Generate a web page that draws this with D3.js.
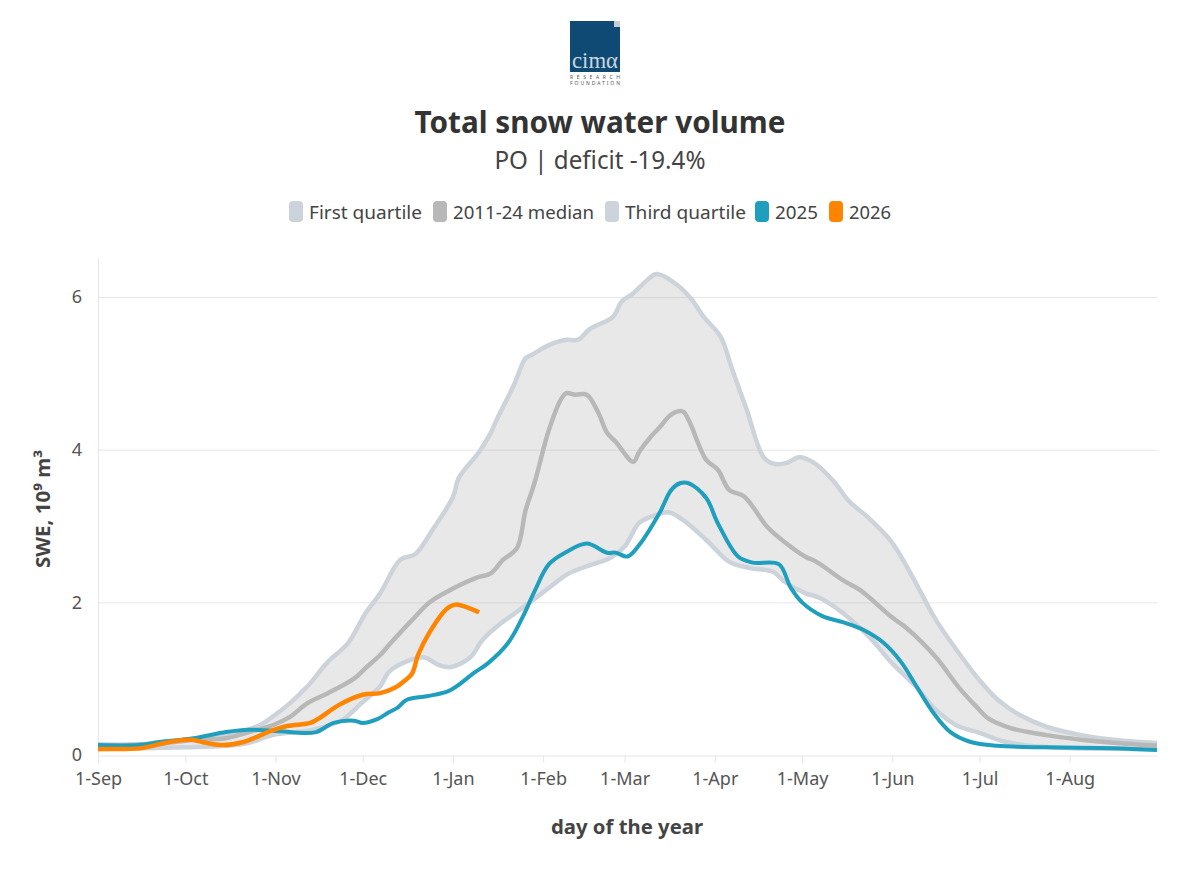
<!DOCTYPE html>
<html>
<head>
<meta charset="utf-8">
<script src="https://cdn.jsdelivr.net/npm/d3@7"></script>
<style>
  html, body { margin: 0; background: #fff; }
  svg { display: block; font-family: "Noto Sans", sans-serif; }
</style>
</head>
<body>
<svg width="1200" height="869"></svg>
<script>
// days are counted from 1 September
const tickDays = [0, 30, 61, 91, 122, 153, 181, 212, 242, 273, 303, 334];
const tickLabels = ["1-Sep", "1-Oct", "1-Nov", "1-Dec", "1-Jan", "1-Feb", "1-Mar", "1-Apr", "1-May", "1-Jun", "1-Jul", "1-Aug"];
const yTicks = [0, 2, 4, 6];

const q3Days = [0, 15, 30, 45, 55, 61, 66, 72, 79, 86, 92, 97, 104, 109, 115, 122, 124, 131, 135, 137, 143, 147, 149, 155, 161, 165, 169, 177, 180, 184, 189, 192, 199, 204, 208, 214, 218, 223, 229, 233, 237, 241, 246, 253, 258, 265, 273, 280, 288, 296, 303, 310, 317, 326, 338, 349, 364];
const q3Values = [0.14, 0.14, 0.2, 0.28, 0.38, 0.53, 0.68, 0.9, 1.22, 1.47, 1.86, 2.12, 2.56, 2.63, 2.95, 3.38, 3.63, 3.97, 4.22, 4.39, 4.85, 5.2, 5.24, 5.37, 5.44, 5.44, 5.58, 5.74, 5.94, 6.05, 6.23, 6.3, 6.16, 5.97, 5.75, 5.48, 5.05, 4.52, 3.89, 3.81, 3.83, 3.9, 3.83, 3.58, 3.33, 3.1, 2.78, 2.33, 1.77, 1.33, 0.98, 0.7, 0.52, 0.37, 0.26, 0.2, 0.157];

const medianDays = [0, 21, 33, 44, 51, 60, 66, 72, 79, 88, 92, 97, 100, 108, 114, 120, 130, 135, 139, 144, 147, 150, 155, 159, 161, 164, 168, 172, 175, 178, 184, 186, 190, 193, 197, 201, 203, 209, 213, 217, 222, 230, 235, 243, 247, 256, 262, 273, 278, 288, 296, 302, 306, 314, 326, 338, 349, 364];
const medianValues = [0.12, 0.15, 0.2, 0.22, 0.29, 0.39, 0.5, 0.68, 0.81, 1.0, 1.14, 1.31, 1.44, 1.77, 2.0, 2.14, 2.32, 2.38, 2.55, 2.71, 3.21, 3.56, 4.26, 4.65, 4.74, 4.72, 4.72, 4.48, 4.22, 4.1, 3.84, 3.97, 4.17, 4.29, 4.46, 4.5, 4.39, 3.87, 3.74, 3.47, 3.39, 2.99, 2.82, 2.6, 2.53, 2.29, 2.16, 1.8, 1.66, 1.28, 0.88, 0.63, 0.48, 0.35, 0.26, 0.2, 0.16, 0.12];

const q1Days = [0, 30, 44, 52, 60, 74, 84, 90, 97, 100, 107, 112, 117, 121, 128, 132, 137, 146, 155, 161, 167, 176, 181, 186, 190, 196, 201, 209, 217, 224, 232, 236, 243, 248, 256, 265, 273, 281, 288, 295, 303, 312, 326, 364];
const q1Values = [0.08, 0.1, 0.12, 0.16, 0.26, 0.33, 0.46, 0.66, 0.9, 1.09, 1.24, 1.28, 1.18, 1.15, 1.28, 1.5, 1.68, 1.93, 2.19, 2.36, 2.46, 2.58, 2.73, 3.04, 3.12, 3.18, 3.08, 2.82, 2.53, 2.45, 2.4, 2.27, 2.12, 2.06, 1.86, 1.55, 1.2, 0.9, 0.59, 0.39, 0.29, 0.17, 0.105, 0.08];

const days2025 = [0, 14, 21, 33, 44, 52, 63, 69, 75, 81, 88, 91, 96, 100, 103, 106, 113, 120, 124, 129, 134, 141, 146, 150, 155, 161, 168, 175, 178, 182, 186, 193, 197, 200, 203, 209, 213, 220, 225, 234, 238, 242, 249, 256, 263, 270, 276, 281, 287, 293, 300, 309, 326, 349, 364];
const values2025 = [0.13, 0.13, 0.17, 0.22, 0.3, 0.33, 0.31, 0.29, 0.3, 0.42, 0.45, 0.42, 0.47, 0.56, 0.62, 0.72, 0.77, 0.83, 0.92, 1.07, 1.2, 1.47, 1.81, 2.14, 2.5, 2.66, 2.77, 2.65, 2.65, 2.6, 2.75, 3.17, 3.47, 3.56, 3.56, 3.37, 3.04, 2.6, 2.52, 2.5, 2.2, 2.0, 1.82, 1.74, 1.64, 1.47, 1.22, 0.92, 0.56, 0.3, 0.17, 0.12, 0.1, 0.09, 0.065];

const days2026 = [0, 15, 21, 26, 32, 37, 43, 50, 56, 59, 65, 73, 76, 83, 91, 97, 102, 105, 108, 110, 114, 120, 123, 131];
const values2026 = [0.08, 0.09, 0.14, 0.18, 0.2, 0.16, 0.13, 0.17, 0.26, 0.31, 0.38, 0.42, 0.48, 0.66, 0.79, 0.81, 0.88, 0.96, 1.07, 1.31, 1.61, 1.92, 1.97, 1.87];

const legendNames = ["First quartile", "2011-24 median", "Third quartile", "2025", "2026"];
const legendColors = ["#ccd3da", "#b8b8b8", "#ccd3da", "#1f9fbd", "#ff8500"];

const svg = d3.select("svg");
const x = d3.scaleLinear().domain([0, 364]).range([98, 1157]);
const y = d3.scaleLinear().domain([0, 6]).range([755, 297]);

// 把两个数组拼成点
const zip = (days, values) => days.map((d, i) => [d, values[i]]);

// 网格线和坐标轴
const yAxis = svg.append("g")
  .attr("transform", "translate(98,0)")
  .call(d3.axisLeft(y).tickValues(yTicks).tickSize(0).tickPadding(16).tickFormat(d3.format("d")));
yAxis.attr("font-family", null);
yAxis.select(".domain").remove();
yAxis.selectAll("text").attr("font-size", 18).attr("fill", "#555");
yAxis.selectAll(".grid")
  .data(yTicks.slice(1))
  .enter()
  .append("line")
  .attr("x1", 0)
  .attr("x2", 1059)
  .attr("y1", (d) => y(d) + 0.5)
  .attr("y2", (d) => y(d) + 0.5)
  .attr("stroke", "#e6e6e6");

svg.append("line")
  .attr("x1", 98.5).attr("x2", 98.5)
  .attr("y1", 258).attr("y2", 755)
  .attr("stroke", "#e6e6e6");

const xAxis = svg.append("g")
  .attr("transform", "translate(0,755.5)")
  .call(d3.axisBottom(x).tickValues(tickDays).tickSizeInner(7).tickSizeOuter(0).tickPadding(10).tickFormat((d, i) => tickLabels[i]));
xAxis.attr("font-family", null);
xAxis.selectAll("path, line").attr("stroke", "#e6e6e6");
xAxis.selectAll("text").attr("font-size", 18).attr("fill", "#555");

// 四分位之间的区域
const lowerAt = (d) => {
  const i = d3.bisectLeft(q1Days, d);
  if (i === 0) return q1Values[0];
  const t = (d - q1Days[i - 1]) / (q1Days[i] - q1Days[i - 1]);
  return q1Values[i - 1] + t * (q1Values[i] - q1Values[i - 1]);
};
const upperAt = (d) => {
  const i = d3.bisectLeft(q3Days, d);
  if (i === 0) return q3Values[0];
  const t = (d - q3Days[i - 1]) / (q3Days[i] - q3Days[i - 1]);
  return q3Values[i - 1] + t * (q3Values[i] - q3Values[i - 1]);
};
const band = Array.from(new Set([...q1Days, ...q3Days]))
  .sort((a, b) => a - b)
  .map((d) => ({ day: d, lo: lowerAt(d), hi: upperAt(d) }));
const curve = d3.curveCatmullRom.alpha(0.5);
svg.append("path")
  .datum(band)
  .attr("fill", "#b4b4b4")
  .attr("fill-opacity", 0.3)
  .attr("d", d3.area()
    .curve(curve)
    .x((d) => x(d.day))
    .y0((d) => y(d.lo))
    .y1((d) => y(d.hi)));

// 曲线
const line = d3.line()
  .curve(curve)
  .x((d) => x(d[0]))
  .y((d) => y(d[1]));

const series = [
  { points: zip(q1Days, q1Values), color: legendColors[0], width: 4.5 },
  { points: zip(q3Days, q3Values), color: legendColors[2], width: 4.5 },
  { points: zip(medianDays, medianValues), color: legendColors[1], width: 4.5 },
  { points: zip(days2025, values2025), color: legendColors[3], width: 4 },
  { points: zip(days2026, values2026), color: legendColors[4], width: 4.5 },
];
svg.append("g")
  .selectAll("path")
  .data(series)
  .enter()
  .append("path")
  .attr("fill", "none")
  .attr("stroke", (d) => d.color)
  .attr("stroke-width", (d) => d.width)
  .attr("stroke-linejoin", "round")
  .attr("d", (d) => line(d.points));

// 图例
const legendX = [289, 433, 605, 755, 829];
const legendWidth = [113, 141, 121, 43, 42];
const legend = svg.append("g")
  .selectAll("g")
  .data(legendNames)
  .enter()
  .append("g")
  .attr("transform", (d, i) => `translate(${legendX[i]},201)`);
legend.append("rect")
  .attr("width", 14)
  .attr("height", 21)
  .attr("rx", 4)
  .attr("fill", (d, i) => legendColors[i]);
legend.append("text")
  .attr("x", 20)
  .attr("y", 18)
  .attr("font-size", 18)
  .attr("fill", "#444")
  .attr("textLength", (d, i) => legendWidth[i])
  .attr("lengthAdjust", "spacingAndGlyphs")
  .text((d) => d);

// 标题
svg.append("text")
  .attr("x", 600).attr("y", 133)
  .attr("text-anchor", "middle")
  .attr("font-size", 31)
  .attr("font-weight", 700)
  .attr("fill", "#333")
  .attr("textLength", 371)
  .attr("lengthAdjust", "spacingAndGlyphs")
  .text("Total snow water volume");
svg.append("text")
  .attr("x", 600).attr("y", 169)
  .attr("text-anchor", "middle")
  .attr("font-size", 26)
  .attr("fill", "#444")
  .attr("textLength", 211)
  .attr("lengthAdjust", "spacingAndGlyphs")
  .text("PO | deficit -19.4%");

svg.append("text")
  .attr("x", 627).attr("y", 834)
  .attr("text-anchor", "middle")
  .attr("font-size", 20)
  .attr("font-weight", 700)
  .attr("fill", "#444")
  .attr("textLength", 152)
  .attr("lengthAdjust", "spacingAndGlyphs")
  .text("day of the year");
svg.append("text")
  .attr("transform", "translate(50,509) rotate(-90)")
  .attr("text-anchor", "middle")
  .attr("font-size", 19)
  .attr("font-weight", 700)
  .attr("fill", "#444")
  .attr("textLength", 118)
  .attr("lengthAdjust", "spacingAndGlyphs")
  .text("SWE, 10⁹ m³");

// logo
const logo = svg.append("g").attr("transform", "translate(570,21)");
logo.append("rect").attr("width", 50).attr("height", 51).attr("fill", "#0f4a75");
logo.append("rect").attr("x", 44).attr("width", 6).attr("height", 6).attr("fill", "#c9ccd0");
logo.append("text")
  .attr("x", 25).attr("y", 47)
  .attr("text-anchor", "middle")
  .attr("font-family", "Liberation Serif, serif")
  .attr("font-size", 23)
  .attr("fill", "#c9d6df")
  .attr("textLength", 46)
  .attr("lengthAdjust", "spacingAndGlyphs")
  .text("cimα");
logo.selectAll(".tag")
  .data(["RESEARCH", "FOUNDATION"])
  .enter()
  .append("text")
  .attr("x", 25)
  .attr("y", (d, i) => 58 + i * 6)
  .attr("text-anchor", "middle")
  .attr("font-size", 5)
  .attr("fill", "#555")
  .attr("textLength", 50)
  .text((d) => d);
</script>
</body>
</html>
